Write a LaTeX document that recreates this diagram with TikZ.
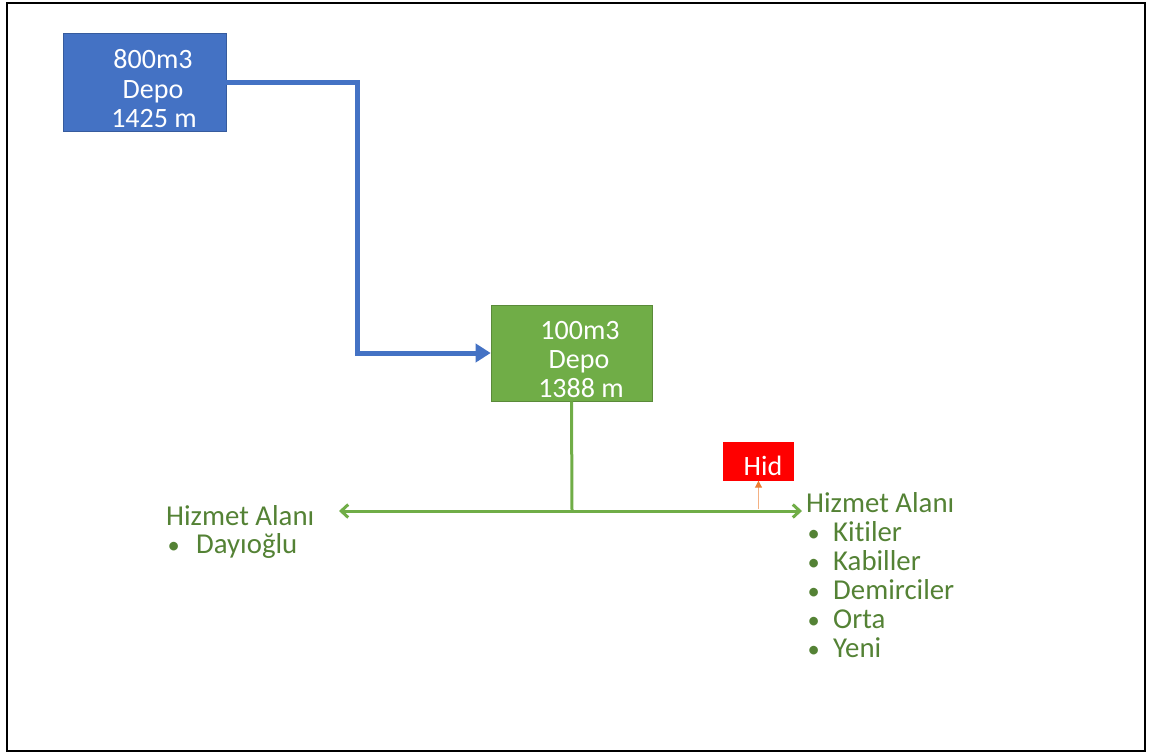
\documentclass[tikz,border=0pt]{standalone}
\usepackage{fontspec}
\setmainfont{Carlito}[Ligatures=NoCommon]
\usetikzlibrary{arrows.meta}
\definecolor{boxblue}{HTML}{4472C4}
\definecolor{boxgreen}{HTML}{70AD47}
\definecolor{textgreen}{HTML}{548235}
\definecolor{hidred}{HTML}{FF0000}
\definecolor{darkorange}{HTML}{ED7D31}
\definecolor{lightorange}{HTML}{F4B183}
\tikzset{
  tank/.style={draw=#1!80!black, line width=0.6pt, fill=#1, inner sep=0pt},
  boxtext/.style={text=white, font=\fontsize{28}{29.5}\selectfont, inner sep=0pt, anchor=base},
  listtext/.style={text=textgreen, font=\fontsize{28.8}{28.7}\selectfont, inner sep=0pt, anchor=base west},
  bluepipe/.style={draw=boxblue, line width=5pt, line join=miter, -{Triangle[length=15pt,width=18pt]}},
  greenpipe/.style={draw=boxgreen, line width=3pt},
  greenarrow/.style={greenpipe, -{Straight Barb[length=7pt,width=13pt]}},
  orangearrow/.style={draw=lightorange, line width=1pt, -{Triangle[length=7pt,width=7pt,color=darkorange]}},
}
\newcommand{\bul}[1]{\makebox[#1][l]{\hspace{1.5pt}\scalebox{0.85}{•}}}
\begin{document}
\begin{tikzpicture}[x=1pt,y=-1pt]
\useasboundingbox (0,0) rectangle (1153,753);
\draw[line width=2pt] (7,2.5) rectangle (1145,751);

% tanks
\node[tank=boxblue, minimum width=163, minimum height=98] (blue) at (144.5,82) {};
\node[boxtext] (b1) at (153,68) {800m3};
\node[boxtext] (b2) at (153,98) {Depo};
\node[boxtext] (b3) at (154,127) {1425 m};

\node[tank=boxgreen, minimum width=161, minimum height=96] (green) at (571.5,353) {};
\node[boxtext] (g1) at (580,339) {100m3};
\node[boxtext] (g2) at (579,368) {Depo};
\node[boxtext] (g3) at (581,397) {1388 m};

\node[fill=hidred, inner sep=0pt, minimum width=71, minimum height=39] (hid) at (758.5,461) {};
\node[boxtext] (h1) at (763,475) {Hid};

% connectors
\coordinate (bend) at (357,82);
\draw[bluepipe] (blue.east) -| (bend |- green.west) -- (green.west);

\coordinate (junction) at (572,511);
\coordinate (leftend) at (339,511);
\coordinate (rightend) at (802,511);
\draw[greenpipe] (green.south) -- (junction);
\draw[greenarrow] (junction) -- (leftend);
\draw[greenarrow] (junction) -- (rightend);
\draw[orangearrow] (hid.south |- junction) ++(0,-2) -- (hid.south);

% service areas
\node[listtext] (l1) at (166,525) {Hizmet Alanı};
\node[listtext] (l2) at (166,553) {\bul{30pt}Dayıoğlu};

\node[listtext] (r1) at (806,512) {Hizmet Alanı};
\node[listtext] (r2) at (806,541) {\bul{27pt}Kitiler};
\node[listtext] (r3) at (806,570) {\bul{27pt}Kabiller};
\node[listtext] (r4) at (806,599) {\bul{27pt}Demirciler};
\node[listtext] (r5) at (806,628) {\bul{27pt}Orta};
\node[listtext] (r6) at (806,657) {\bul{27pt}Yeni};
\end{tikzpicture}
\end{document}
